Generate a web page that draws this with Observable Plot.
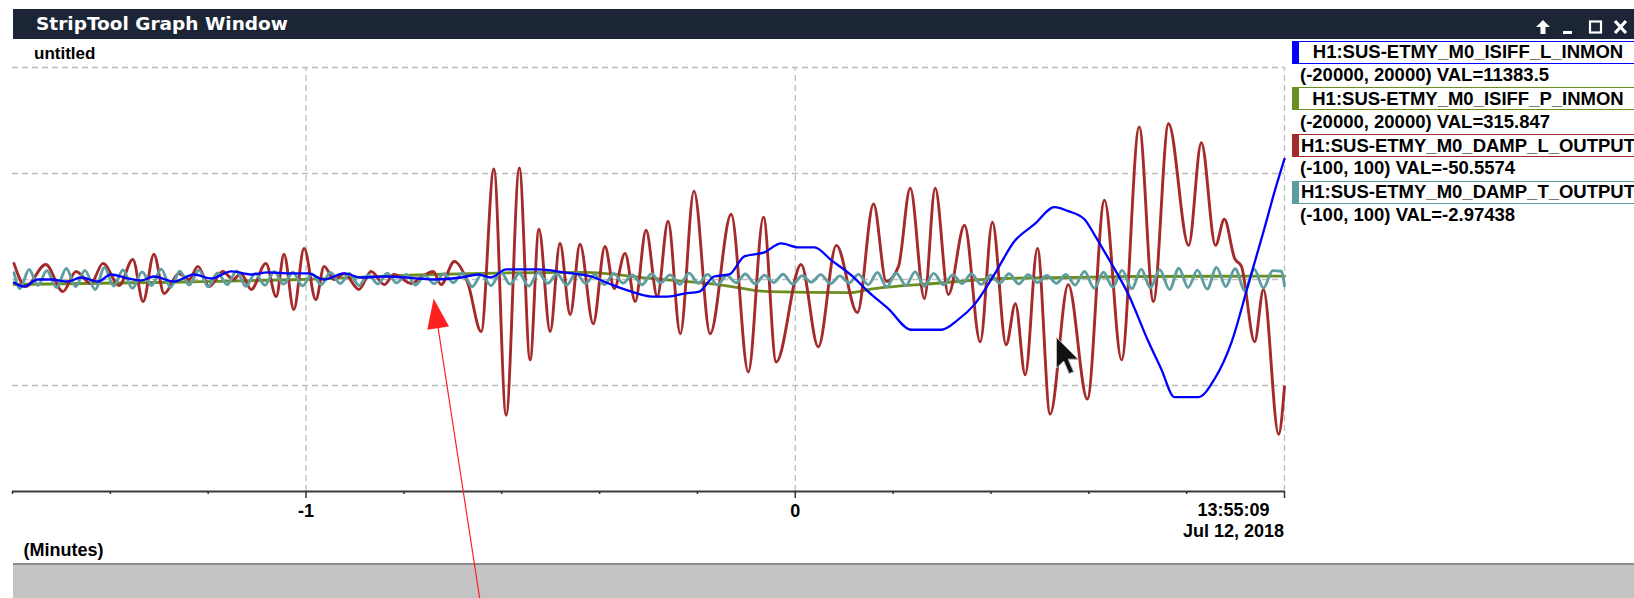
<!DOCTYPE html>
<html><head><meta charset="utf-8">
<script src="https://cdn.jsdelivr.net/npm/d3@7"></script>
<script src="https://cdn.jsdelivr.net/npm/@observablehq/plot@0.6"></script>
<style>
html,body{margin:0;padding:0;background:#fff;}
#page{position:relative;width:1634px;height:598px;overflow:hidden;background:#fff;font-family:"Liberation Sans",Arial,sans-serif;}
#titlebar{position:absolute;left:13px;top:9px;width:1621px;height:30px;background:#1c2536;overflow:hidden;}
#titlebar .t{position:absolute;left:23px;top:3.5px;line-height:30px;font:bold 18.5px "DejaVu Sans";color:#fff;white-space:nowrap;}
#ctrl{position:absolute;left:1517px;top:6.7px;}
#untitled{position:absolute;left:34px;top:44px;line-height:20px;font:bold 17px "Liberation Sans";color:#000;}
.entry{position:absolute;left:1292px;width:346px;height:23px;box-sizing:border-box;border:1.5px solid;border-left-width:7px;background:#fff;display:flex;align-items:center;justify-content:safe center;font:bold 18.5px "Liberation Sans";color:#000;white-space:nowrap;overflow:hidden;}
.val{position:absolute;left:1300px;line-height:20px;font:bold 18.5px "Liberation Sans";color:#000;white-space:nowrap;}
#status{position:absolute;left:13px;top:563px;width:1621px;height:35px;background:#c3c3c3;border-top:2px solid #8c8c8c;box-sizing:border-box;}
#chart{position:absolute;left:0;top:0;}
</style>
</head><body>
<div id="page">
  <div id="titlebar"><div class="t">StripTool Graph Window</div>
    <svg id="ctrl" width="104" height="24" viewBox="0 0 104 24">
      <path d="M13 4 L20 11 L15.5 11 L15.5 18 L10.5 18 L10.5 11 L6 11 Z" fill="#fff"/>
      <rect x="33" y="15" width="9" height="3" fill="#fff"/>
      <rect x="60" y="5.5" width="11" height="11" fill="none" stroke="#fff" stroke-width="2.2"/>
      <path d="M85 5 L96 17 M96 5 L85 17" stroke="#fff" stroke-width="3.2"/>
    </svg>
  </div>
  <div id="untitled">untitled</div>
  <div id="legend"></div>
  <div id="status"></div>
  <div id="chart"></div>
</div>
<script>
// ---- series definitions (from legend) ----
const names  = ["H1:SUS-ETMY_M0_ISIFF_L_INMON","H1:SUS-ETMY_M0_ISIFF_P_INMON","H1:SUS-ETMY_M0_DAMP_L_OUTPUT","H1:SUS-ETMY_M0_DAMP_T_OUTPUT"];
const lows   = [-20000, -20000, -100, -100];
const highs  = [20000, 20000, 100, 100];
const vals   = ["11383.5", "315.847", "-50.5574", "-2.97438"];
const colors = ["#0000ff", "#6b8e23", "#a52a2a", "#5f9ea0"];

// ---- time axis (minutes) ----
const xDomain    = [-1.6, 1.0];
const majorTicks = [-1, 0, 1];
const minorTicks = [-1.6, -1.4, -1.2, -0.8, -0.6, -0.4, -0.2, 0.2, 0.4, 0.6, 0.8];
const xLabels    = [{t: -1, label: "-1"}, {t: 0, label: "0"}];
const timeStamp  = ["13:55:09", "Jul 12, 2018"];
const axisTitle  = "(Minutes)";
const yGrid      = [-1, -0.5, 0, 0.5, 1];

// ---- trace samples [minutes, value in series units] ----
const blueL = [[-1.597,-284],[-1.577,-664],[-1.548,0],[-1.521,0],[-1.487,-190],[-1.460,190],[-1.425,-190],[-1.399,474],[-1.364,95],[-1.337,-95],[-1.311,284],[-1.270,-190],[-1.229,474],[-1.194,95],[-1.153,758],[-1.112,474],[-1.078,664],[-1.031,569],[-0.996,569],[-0.963,0],[-0.922,569],[-0.888,190],[-0.840,284],[-0.771,95],[-0.738,0],[-0.683,190],[-0.648,474],[-0.622,190],[-0.591,948],[-0.526,948],[-0.472,664],[-0.417,284],[-0.376,-474],[-0.335,-1138],[-0.294,-1612],[-0.260,-1612],[-0.227,-1327],[-0.196,-1138],[-0.166,284],[-0.135,474],[-0.104,2180],[-0.063,2560],[-0.029,3413],[0.006,3034],[0.039,3034],[0.074,1801],[0.115,379],[0.149,-1138],[0.190,-2749],[0.237,-4740],[0.299,-4740],[0.333,-3792],[0.366,-2370],[0.407,474],[0.448,3602],[0.489,5214],[0.530,6826],[0.558,6446],[0.591,5688],[0.611,4266],[0.640,1991],[0.681,-1422],[0.722,-5878],[0.748,-8437],[0.775,-11092],[0.824,-11092],[0.857,-9385],[0.892,-5878],[0.926,-474],[0.959,4835],[0.980,8342],[1.000,11383.5]];

const greenP = [[-1.597,-474],[-1.317,-284],[-1.010,0],[-0.744,474],[-0.431,664],[-0.294,95],[-0.157,-474],[-0.055,-1138],[0.115,-1233],[0.149,-948],[0.284,-379],[0.421,95],[0.558,190],[0.693,284],[1.000,315.847]];

const redL = [[-1.597,7.6],[-1.573,-3.3],[-1.532,7.1],[-1.497,-5.7],[-1.470,3.8],[-1.440,-1.9],[-1.415,7.6],[-1.382,-2.8],[-1.354,9.5],[-1.333,-10.4],[-1.311,11.9],[-1.290,-6.6],[-1.260,2.8],[-1.239,0],[-1.221,6.2],[-1.198,-3.3],[-1.170,3.8],[-1.149,0],[-1.133,2.8],[-1.112,-4.7],[-1.082,7.6],[-1.061,-8.1],[-1.045,11.9],[-1.025,-14.2],[-1.004,14.7],[-0.980,-9.5],[-0.963,6.2],[-0.943,0],[-0.922,2.8],[-0.892,-4.7],[-0.867,3.8],[-0.840,-2.4],[-0.820,2.4],[-0.785,-1.9],[-0.765,0.9],[-0.740,3.8],[-0.724,-2.4],[-0.697,8.5],[-0.669,-1.9],[-0.642,-24.6],[-0.616,52.1],[-0.591,-64.0],[-0.564,52.6],[-0.542,-37.9],[-0.524,23.7],[-0.501,-24.6],[-0.481,17.1],[-0.460,-16.6],[-0.440,16.6],[-0.413,-20.9],[-0.389,15.6],[-0.370,-4.3],[-0.348,12.3],[-0.327,-10.4],[-0.305,23.2],[-0.282,-8.1],[-0.260,27.5],[-0.235,-25.6],[-0.207,41.7],[-0.174,-25.6],[-0.131,30.8],[-0.096,-43.6],[-0.065,29.4],[-0.039,-38.9],[0.012,7.1],[0.047,-31.8],[0.084,16.1],[0.127,-15.6],[0.160,35.6],[0.186,-0.9],[0.211,6.2],[0.235,43.1],[0.264,-9.0],[0.286,43.1],[0.313,-7.1],[0.346,25.6],[0.378,-29.4],[0.403,27.0],[0.431,-30.8],[0.450,-11.4],[0.470,-45.0],[0.495,14.7],[0.521,-63.5],[0.558,-2.4],[0.597,-56.4],[0.632,37.4],[0.667,-37.9],[0.703,72.0],[0.732,-10.4],[0.763,73.5],[0.804,16.1],[0.830,64.5],[0.859,16.1],[0.877,28.4],[0.898,10.0],[0.912,6.2],[0.939,-29.4],[0.957,-4.7],[0.988,-73.0],[1.000,-50.5574]];

const tealT = [[-1.597,3.2],[-1.585,-4.3],[-1.566,4.7],[-1.548,-2.8],[-1.530,4.2],[-1.510,-3.8],[-1.490,5.2],[-1.471,-3.3],[-1.452,4.3],[-1.431,-4.7],[-1.412,5.6],[-1.393,-3.1],[-1.374,4.5],[-1.355,-4.2],[-1.335,3.6],[-1.316,-2.9],[-1.296,4.9],[-1.277,-3.7],[-1.258,3.9],[-1.239,-2.6],[-1.219,4.4],[-1.200,-3.5],[-1.181,3.1],[-1.161,-2.4],[-1.142,4.0],[-1.123,-3.2],[-1.104,2.9],[-1.084,-2.7],[-1.065,3.8],[-1.046,-2.2],[-1.027,3.4],[-1.007,-3.0],[-0.988,2.6],[-0.969,-2.5],[-0.950,3.3],[-0.930,-1.9],[-0.911,2.8],[-0.892,-2.8],[-0.873,2.2],[-0.853,-2.1],[-0.834,3.0],[-0.815,-1.6],[-0.795,2.4],[-0.776,-2.6],[-0.757,1.9],[-0.738,-2.0],[-0.718,2.7],[-0.699,-1.5],[-0.680,3.1],[-0.660,-3.4],[-0.641,2.5],[-0.622,-2.9],[-0.602,3.6],[-0.583,-2.2],[-0.564,2.8],[-0.545,-3.1],[-0.525,3.3],[-0.506,-1.8],[-0.487,2.6],[-0.467,-2.7],[-0.448,3.2],[-0.429,-1.9],[-0.410,2.3],[-0.390,-2.4],[-0.371,2.9],[-0.352,-1.7],[-0.333,2.1],[-0.313,-2.5],[-0.294,2.7],[-0.275,-1.6],[-0.256,2.2],[-0.236,-2.3],[-0.217,3.0],[-0.198,-1.8],[-0.179,2.4],[-0.159,-2.6],[-0.140,1.9],[-0.121,-1.5],[-0.102,2.6],[-0.082,-2.1],[-0.063,2.0],[-0.044,-1.4],[-0.025,2.5],[-0.005,-2.2],[0.014,1.8],[0.033,-1.3],[0.052,2.3],[0.072,-2.0],[0.091,1.7],[0.110,-1.6],[0.129,2.4],[0.149,-2.4],[0.168,3.3],[0.187,-3.5],[0.206,3.1],[0.226,-2.8],[0.245,3.6],[0.264,-3.2],[0.283,2.9],[0.303,-2.5],[0.322,2.2],[0.341,-1.9],[0.360,2.6],[0.380,-2.3],[0.399,2.0],[0.418,-1.7],[0.437,2.7],[0.457,-2.1],[0.476,2.3],[0.495,-1.4],[0.514,1.9],[0.534,-1.8],[0.553,2.4],[0.572,-2.6],[0.591,3.8],[0.611,-4.1],[0.630,3.4],[0.649,-3.6],[0.668,4.3],[0.688,-4.4],[0.707,4.9],[0.726,-3.9],[0.745,4.6],[0.765,-4.7],[0.784,5.3],[0.803,-3.8],[0.822,4.4],[0.842,-4.5],[0.861,5.7],[0.880,-3.3],[0.899,5.1],[0.919,-5.2],[0.938,4.8],[0.957,-4.0],[0.976,4.2],[0.994,3.9],[1.000,-2.97438]];

// ---- annotations on the screenshot (in chart coordinates) ----
const pointerArrow = [{t1: -0.645, y1: -1.505, t2: -0.733, y2: -0.183, rot: -8.7}];
const mouseCursor  = [{t: 0.534, y: -0.274}];

// ---- legend (HTML) ----
const legend = document.getElementById("legend");
names.forEach((n, i) => {
  const box = document.createElement("div");
  box.className = "entry";
  box.style.top = (40.7 + i * 46.7) + "px";
  box.style.borderColor = colors[i];
  box.textContent = n;
  legend.appendChild(box);
  const v = document.createElement("div");
  v.className = "val";
  v.style.top = (63.8 + i * 46.7) + "px";
  v.textContent = `(${lows[i]}, ${highs[i]}) VAL=${vals[i]}`;
  legend.appendChild(v);
});

// ---- normalization of each series to its own strip range ----
const norm = i => d => (d[1] - lows[i]) / (highs[i] - lows[i]) * 2 - 1;

const arrowHead = {draw(ctx, size) { const r = Math.sqrt(size / Math.PI); ctx.moveTo(0, -2 * r); ctx.lineTo(1.1 * r, r); ctx.lineTo(-1.1 * r, r); ctx.closePath(); }};
const cursorSym = {draw(ctx, size) { const k = Math.sqrt(size / Math.PI) / 5;
  const p = [[0,0],[0,17],[4,13],[7,20],[9.5,19],[6.5,12],[12,12]];
  ctx.moveTo(p[0][0]*k, p[0][1]*k); for (let j = 1; j < p.length; j++) ctx.lineTo(p[j][0]*k, p[j][1]*k); ctx.closePath(); }};

const txt = {fontFamily: "Liberation Sans, Arial, sans-serif", fontSize: 18, fontWeight: "bold", fill: "#000"};

const chart = Plot.plot({
  width: 1634, height: 598,
  marginTop: 67, marginBottom: 107, marginLeft: 12, marginRight: 350,
  x: {domain: xDomain, axis: null},
  y: {domain: [-1, 1], axis: null},
  style: {background: "transparent", overflow: "visible"},
  marks: [
    Plot.ruleY(yGrid.slice(1), {stroke: "#bdbdbd", strokeWidth: 1.3, strokeDasharray: "6,4"}),
    Plot.ruleX(majorTicks, {y1: -1, y2: 1, stroke: "#bdbdbd", strokeWidth: 1.3, strokeDasharray: "6,4"}),
    Plot.ruleY([yGrid[0]], {stroke: "#3a3a3a", strokeWidth: 2}),
    Plot.axisX({ticks: minorTicks, tickSize: 3, tickFormat: () => "", stroke: "#333", strokeWidth: 1.5, label: null}),
    Plot.axisX({ticks: majorTicks, tickSize: 7, tickFormat: () => "", stroke: "#333", strokeWidth: 1.5, label: null}),
    Plot.text(xLabels, {x: "t", y: -1, dy: 20, text: "label", ...txt}),
    Plot.text([timeStamp[0]], {x: xDomain[1], y: -1, dx: -51, dy: 19, text: d => d, ...txt}),
    Plot.text([timeStamp[1]], {x: xDomain[1], y: -1, dx: -51, dy: 40, text: d => d, ...txt}),
    Plot.text([axisTitle], {x: xDomain[0], y: -1, dx: 11, dy: 59, text: d => d, textAnchor: "start", ...txt}),
    Plot.line(greenP, {x: d => d[0], y: norm(1), stroke: colors[1], strokeWidth: 2.8, curve: "monotone-x"}),
    Plot.line(redL,   {x: d => d[0], y: norm(2), stroke: colors[2], strokeWidth: 2.9, curve: "monotone-x"}),
    Plot.line(tealT,  {x: d => d[0], y: norm(3), stroke: colors[3], strokeWidth: 2.9, curve: "monotone-x"}),
    Plot.line(blueL,  {x: d => d[0], y: norm(0), stroke: colors[0], strokeWidth: 2.3, curve: "monotone-x"}),
    Plot.link(pointerArrow, {x1: "t1", y1: "y1", x2: "t2", y2: "y2", stroke: "#ff2020", strokeWidth: 1.2}),
    Plot.dot(pointerArrow, {x: "t2", y: "y2", r: 10, symbol: arrowHead, rotate: "rot", fill: "#ff2020", stroke: "none"}),
    Plot.dot(mouseCursor, {x: "t", y: "y", r: 9, symbol: cursorSym, fill: "#111", stroke: "#bbb", strokeWidth: 1})
  ]
});
document.getElementById("chart").appendChild(chart);
</script>
</body></html>
